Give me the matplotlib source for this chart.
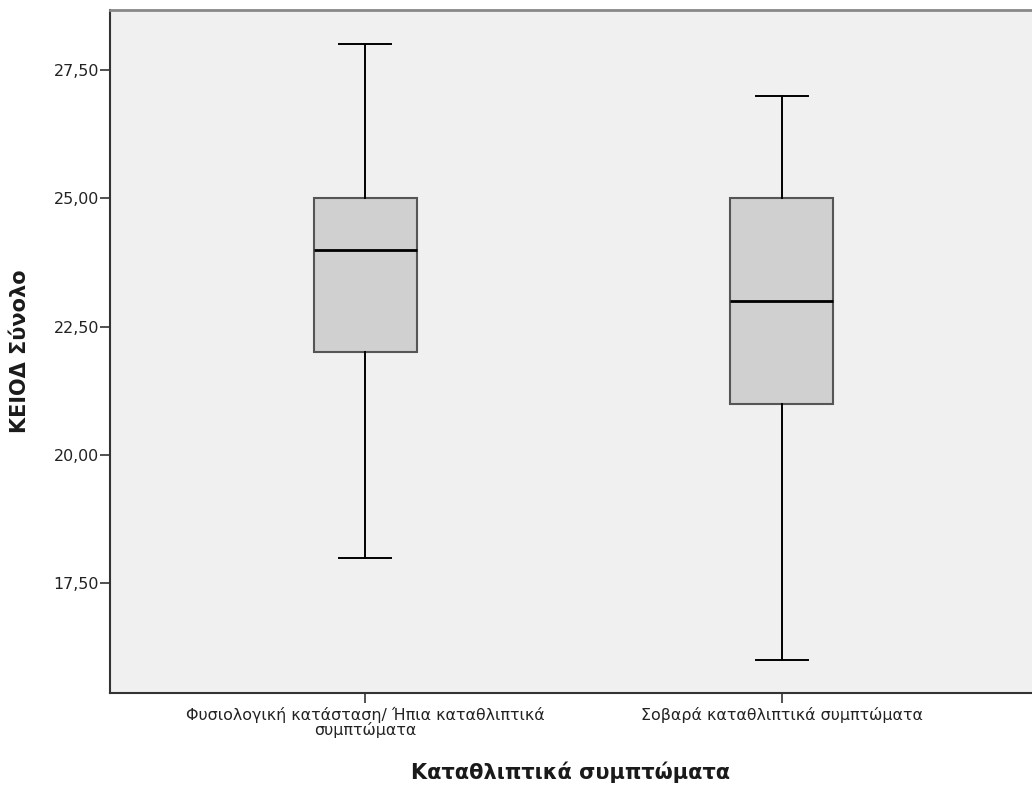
import matplotlib.pyplot as plt
from matplotlib.ticker import FuncFormatter

plt.rcParams['font.family'] = ['DejaVu Sans']

# data
groups = ['Φυσιολογική κατάσταση/ Ήπια καταθλιπτικά\nσυμπτώματα',
          'Σοβαρά καταθλιπτικά συμπτώματα']
whislo = [18.0, 16.0]
q1 = [22.0, 21.0]
med = [24.0, 23.0]
q3 = [25.0, 25.0]
whishi = [28.0, 27.0]
yticks = [17.5, 20.0, 22.5, 25.0, 27.5]

stats = []
for i in range(len(groups)):
    stats.append({'whislo': whislo[i], 'q1': q1[i], 'med': med[i],
                  'q3': q3[i], 'whishi': whishi[i], 'fliers': [], 'label': groups[i]})

fig = plt.figure(figsize=(10.32, 7.85), dpi=100)
ax = fig.add_axes([110 / 1032, 92 / 785, 927 / 1032, 683 / 785])
ax.set_facecolor('#f0f0f0')

ax.bxp(stats, positions=[1, 2], widths=0.247, patch_artist=True,
       boxprops=dict(facecolor='#d0d0d0', edgecolor='#555555', linewidth=1.5),
       medianprops=dict(color='black', linewidth=2),
       whiskerprops=dict(color='black', linewidth=1.4),
       capprops=dict(color='black', linewidth=1.4),
       capwidths=0.124)

ax.set_xlim(0.388, 2.612)
ax.set_ylim(15.36, 28.67)
ax.set_yticks(yticks)
ax.yaxis.set_major_formatter(FuncFormatter(lambda v, p: ('%.2f' % v).replace('.', ',')))
ax.tick_params(axis='both', direction='out', length=7, width=1.2, color='#333333',
               labelsize=11.4, labelcolor='#222222')
ax.tick_params(axis='y', pad=1)
ax.tick_params(axis='x', pad=3)
for lab in ax.get_xticklabels():
    lab.set_linespacing(0.95)

for s in ['left', 'bottom']:
    ax.spines[s].set_color('#333333')
    ax.spines[s].set_linewidth(1.5)
ax.spines['top'].set_color('#888888')
ax.spines['top'].set_linewidth(2)
ax.spines['right'].set_visible(False)

ax.set_xlabel('Καταθλιπτικά συμπτώματα', fontsize=15, fontweight='bold', color='#1a1a1a')
ax.xaxis.set_label_coords(0.497, -0.1)
ax.set_ylabel('ΚΕΙΟΔ Σύνολο', fontsize=15, fontweight='bold', color='#1a1a1a')
ax.yaxis.set_label_coords(-0.086, 0.5)

fig.savefig('out.png', dpi=100)
